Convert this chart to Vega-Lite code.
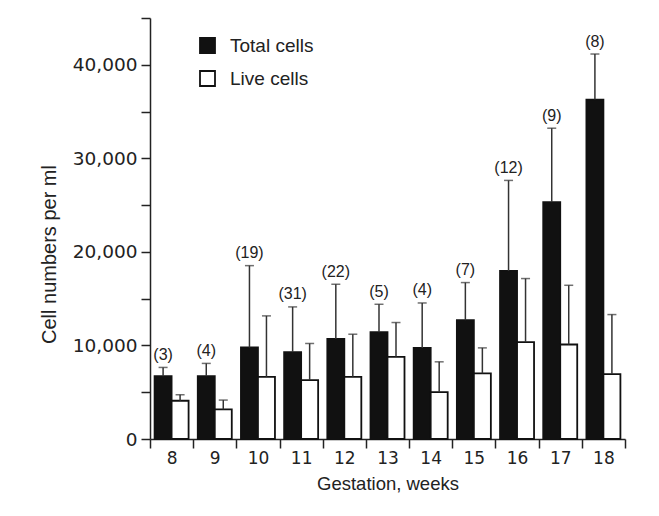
{
  "$schema": "https://vega.github.io/schema/vega-lite/v6.json",
  "width": 475,
  "height": 421,
  "autosize": {"type": "none"},
  "padding": {"left": 150, "top": 18, "right": 34, "bottom": 77},
  "background": "white",
  "config": {
    "view": {"stroke": null},
    "axis": {
      "domainColor": "#222",
      "tickColor": "#222",
      "labelColor": "#222",
      "titleColor": "#222",
      "grid": false,
      "domainWidth": 1.5,
      "tickWidth": 1.5,
      "tickSize": 9
    },
    "legend": {
      "labelFont": "Liberation Sans",
      "labelFontSize": 19,
      "labelColor": "#222",
      "symbolType": "square",
      "symbolSize": 225,
      "symbolStrokeColor": "#111",
      "symbolStrokeWidth": 1.8,
      "padding": 0,
      "rowPadding": 10,
      "labelOffset": 13
    }
  },
  "data": {
    "values": [
      {"week": 8, "type": "Total cells", "value": 6720, "upper": 7650, "label": "(3)"},
      {"week": 8, "type": "Live cells", "value": 4090, "upper": 4730, "label": null},
      {"week": 9, "type": "Total cells", "value": 6720, "upper": 8080, "label": "(4)"},
      {"week": 9, "type": "Live cells", "value": 3170, "upper": 4160, "label": null},
      {"week": 10, "type": "Total cells", "value": 9780, "upper": 18530, "label": "(19)"},
      {"week": 10, "type": "Live cells", "value": 6650, "upper": 13160, "label": null},
      {"week": 11, "type": "Total cells", "value": 9280, "upper": 14120, "label": "(31)"},
      {"week": 11, "type": "Live cells", "value": 6300, "upper": 10210, "label": null},
      {"week": 12, "type": "Total cells", "value": 10700, "upper": 16540, "label": "(22)"},
      {"week": 12, "type": "Live cells", "value": 6650, "upper": 11200, "label": null},
      {"week": 13, "type": "Total cells", "value": 11420, "upper": 14400, "label": "(5)"},
      {"week": 13, "type": "Live cells", "value": 8780, "upper": 12450, "label": null},
      {"week": 14, "type": "Total cells", "value": 9740, "upper": 14540, "label": "(4)"},
      {"week": 14, "type": "Live cells", "value": 5010, "upper": 8250, "label": null},
      {"week": 15, "type": "Total cells", "value": 12700, "upper": 16720, "label": "(7)"},
      {"week": 15, "type": "Live cells", "value": 7010, "upper": 9740, "label": null},
      {"week": 16, "type": "Total cells", "value": 17960, "upper": 27640, "label": "(12)"},
      {"week": 16, "type": "Live cells", "value": 10350, "upper": 17150, "label": null},
      {"week": 17, "type": "Total cells", "value": 25320, "upper": 33220, "label": "(9)"},
      {"week": 17, "type": "Live cells", "value": 10100, "upper": 16430, "label": null},
      {"week": 18, "type": "Total cells", "value": 36280, "upper": 41150, "label": "(8)"},
      {"week": 18, "type": "Live cells", "value": 6940, "upper": 13300, "label": null}
    ]
  },
  "encoding": {
    "x": {
      "field": "week",
      "type": "ordinal",
      "scale": {"paddingInner": 0, "paddingOuter": 0},
      "axis": {
        "title": "Gestation, weeks",
        "labelAngle": 0,
        "tickBand": "extent",
        "labelFont": "DejaVu Sans",
        "labelFontSize": 17,
        "labelPadding": 2,
        "titleFont": "Liberation Sans",
        "titleFontSize": 18.5,
        "titleFontWeight": "normal",
        "titlePadding": 8
      }
    },
    "xOffset": {
      "field": "type",
      "type": "nominal",
      "sort": ["Total cells", "Live cells"],
      "scale": {"paddingInner": 0, "paddingOuter": 0.27}
    }
  },
  "layer": [
    {
      "mark": {"type": "bar", "stroke": "#111", "strokeWidth": 1.8},
      "encoding": {
        "y": {
          "field": "value",
          "type": "quantitative",
          "scale": {"domain": [0, 45000], "nice": false},
          "axis": {
            "title": "Cell numbers per ml",
            "values": [0, 5000, 10000, 15000, 20000, 25000, 30000, 35000, 40000, 45000],
            "labelExpr": "datum.value % 10000 === 0 ? format(datum.value, ',') : ''",
            "labelFont": "DejaVu Sans",
            "labelFontSize": 18.5,
            "labelPadding": 4,
            "titleFont": "Liberation Sans",
            "titleFontSize": 20,
            "titleFontWeight": "normal",
            "titleAngle": 270,
            "titleX": -101,
            "titleY": 236,
            "titleAlign": "center",
            "titleBaseline": "middle"
          }
        },
        "fill": {
          "field": "type",
          "type": "nominal",
          "sort": ["Total cells", "Live cells"],
          "scale": {"domain": ["Total cells", "Live cells"], "range": ["#111111", "#ffffff"]},
          "legend": {"title": null, "orient": "none", "legendX": 48, "legendY": 18}
        }
      }
    },
    {
      "mark": {"type": "rule", "color": "#333", "strokeWidth": 1.5},
      "encoding": {
        "y": {"field": "value", "type": "quantitative"},
        "y2": {"field": "upper"}
      }
    },
    {
      "mark": {"type": "tick", "color": "#333", "size": 9, "thickness": 1.5, "orient": "horizontal"},
      "encoding": {
        "y": {"field": "upper", "type": "quantitative"}
      }
    },
    {
      "transform": [{"filter": "datum.label != null"}],
      "mark": {"type": "text", "font": "Liberation Sans", "fontSize": 16, "color": "#222", "baseline": "middle", "dy": -12.5},
      "encoding": {
        "y": {"field": "upper", "type": "quantitative"},
        "text": {"field": "label"}
      }
    }
  ]
}
